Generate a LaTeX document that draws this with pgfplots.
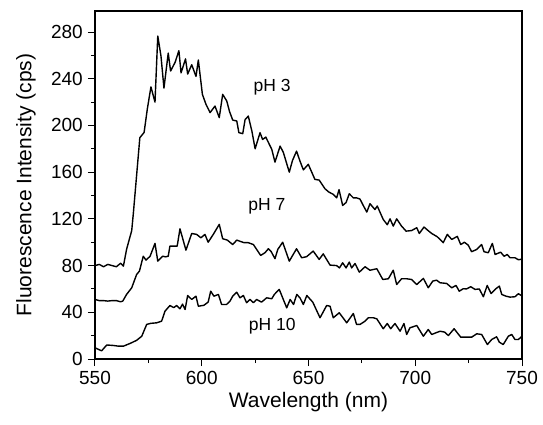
\documentclass[border=0pt]{standalone}
\usepackage{pgfplots}
\pgfplotsset{compat=1.18}
\usepackage{fontspec}
\setmainfont{Liberation Sans}
\begin{document}
\begin{tikzpicture}
\begin{axis}[
  scale only axis,
  width=427pt, height=348pt,
  xmin=550, xmax=750, ymin=0, ymax=298,
  xtick={550,600,...,750}, ytick={0,40,...,280},
  minor x tick num=1, minor y tick num=1,
  xtick pos=lower, ytick pos=left,
  tick align=outside,
  major tick length=7pt, minor tick length=4pt,
  every tick/.style={black, line width=1pt},
  axis line style={line width=1.2pt},
  /pgf/number format/assume math mode=true,
  tick label style={font=\fontsize{19}{22}\selectfont},
  xticklabel style={inner sep=2pt, yshift=-3pt},
  yticklabel style={inner sep=2pt, xshift=-3pt},
  label style={font=\fontsize{21}{25}\selectfont},
  xlabel={Wavelength (nm)},
  ylabel={Fluorescence Intensity (cps)},
  xlabel style={at={(axis description cs:0.5,-0.1236)}, anchor=center},
  ylabel style={at={(axis description cs:-0.1616,0.5)}, anchor=center},
]
% pH 3
\addplot[black, line width=1.4pt, line join=round] coordinates {
(550,80) (552,81) (554,79) (556,81) (558,80) (560,79) (562,82) (563.3,79.5)
(564.8,94) (567.2,110) (568,125.5) (571,189.5) (573,194) (574.5,214) (576.2,233)
(578.1,220) (579.4,276.6) (580.9,259.5) (582.3,232) (584.3,262) (585.4,246.6)
(587.5,254) (589.3,264) (590.3,245) (592.4,257) (593.4,244) (595.3,252) (597.3,242)
(598.4,256) (600.3,226.6) (602,218) (603.9,211) (606.2,216.6) (608.2,206.7)
(609.8,226.6) (611.7,221) (613,212) (614.5,204.6) (616.4,203.8) (617.4,193.8)
(619.2,193) (620.3,205) (621.8,208) (623.5,195) (625,180) (627.3,193.8) (628.5,188)
(630,190) (632.8,179.5) (634.3,168.6) (636.7,182.3) (638.2,177) (641,160) (642.5,170)
(644.4,178) (646,169.5) (647.6,162) (649.9,166.7) (653,153.8) (655,153.2) (657.7,145.8)
(659.5,143) (661.6,141) (663.2,138) (664.3,145) (666,131.5) (667.6,134) (669.1,141.5)
(671,138) (672.5,138) (674.1,137) (675.5,132) (677.3,125.8) (678.8,133) (681.1,128)
(682.2,131) (685,119.5) (686.9,115) (688.2,120) (689.7,113.8) (691.3,120) (693.5,114)
(695.7,109.5) (698.3,110) (700.7,112.4) (701.9,107.5) (704.1,113) (706,110) (707.7,107.5)
(710.3,104.7) (713.1,99.6) (715,106.7) (717.1,102.4) (719.7,105) (721.3,98) (723,100)
(724.8,97.5) (726.4,91.9) (728.8,93.8) (731.1,98) (732.2,91.9) (734.2,91) (736.1,99)
(737.4,89.5) (740,91.5) (741.6,88) (743.1,89.5) (744.4,86.7) (746.7,86.7) (748.3,85)
(750,85.5)
};
% pH 7
\addplot[black, line width=1.4pt, line join=round] coordinates {
(550,51) (552,50) (554,50) (556,49.6) (558,50) (560,50) (562,49) (563,49.6)
(564.8,55.3) (567.2,61) (569.5,72.4) (570.8,75.2) (572.6,88) (573.9,84.7) (575.8,88)
(578.1,99) (579.4,83.8) (581.7,88) (583,87.5) (584.3,88) (585.1,96.7) (588.5,96.7)
(589.8,111.5) (592.6,93.2) (595.3,107.5) (597.6,106.7) (599.6,103.8) (601.5,106.7)
(603,100) (605.4,106.7) (608.2,115.3) (609.8,103) (612,101.8) (614.5,98) (616.4,101.8)
(619.8,99.6) (621.8,99.6) (624.2,98) (627.6,88.7) (629.6,91) (631.2,94.4) (632.5,92)
(634.3,85.9) (635.6,93.8) (637.9,100) (641,83.8) (644.4,94.4) (646.8,86.7) (649.1,87.6)
(652.2,92.4) (655,85.3) (656.9,90) (660.1,80.4) (663.2,80) (664.5,78) (666,82.4)
(667.6,78) (669.1,83) (670.2,78) (671.8,81.8) (673.8,74.4) (676.5,79) (678.8,76)
(682,77.3) (684.8,68.1) (687.4,68.7) (689.7,76) (691.3,63.8) (693.6,68.7) (696,68.7)
(698.3,68.1) (700.7,63.8) (703.8,69) (706.1,61) (708.2,66.7) (710,67.5) (711.6,65.3)
(714.7,64.7) (717.1,61) (719.1,63) (720.6,58.1) (722.5,60.2) (724,60) (726,61.9)
(728,59.6) (730,60) (731.9,53.3) (733.7,63) (735.5,56.1) (737.8,60.2) (739.4,62.4)
(740.5,55.3) (742.5,53.8) (744.4,53) (746.7,53.3) (748.3,55.9) (750,54)
};
% pH 10
\addplot[black, line width=1.4pt, line join=round] coordinates {
(550,9.6) (553.1,7) (555.5,12) (558.6,11.6) (561,11) (563.3,11) (566.4,13.3)
(569.5,16) (571.9,19.5) (574.2,29.6) (576,30.5) (578.9,31) (581.2,32.4) (582.8,41)
(585.1,45.8) (586.9,44) (588.2,45.8) (589.8,43) (591,47) (592.2,42.4) (593.4,54.4)
(595.3,51) (597.3,53.8) (598.4,45.2) (601,46) (603,48.7) (604.2,58.1) (605.7,53.8)
(607.8,55.3) (609.3,46.7) (611.6,46.7) (613.2,49.5) (614.5,53.8) (616.4,57.2)
(617.9,52.4) (619.5,54.4) (621,48.2) (622.6,51) (624.2,48.2) (625.7,51) (628,48.7)
(630.4,52.4) (632.8,51.6) (634,55.3) (636.3,59.6) (638.2,51) (639.8,43.8) (641.4,51)
(643,46.7) (644.5,55.3) (646,52.4) (647.6,46.7) (649.2,54.4) (652,48.7) (655.4,35.3)
(658.5,45.8) (660.1,45.2) (661.6,35.3) (664.4,39.6) (667.9,31) (671,39) (672.5,29.6)
(674.1,29.6) (676.5,32.4) (678,35.3) (680.4,35.3) (682,34.4) (685,25.9) (686.9,30.4)
(688.5,25.9) (690.5,30.4) (692.9,23.8) (694.7,30.4) (696,21) (697.5,26.7) (700.7,28.7)
(703.8,19.5) (706.1,25.3) (707.7,21) (711.6,23.8) (713.8,23) (715.5,20.1) (718.2,25.9)
(721.3,18.7) (726.4,18.7) (728.8,21.6) (731.1,21) (733.8,12.4) (735.8,16.7) (738.1,19)
(739.4,14.4) (741.2,12.4) (743.6,19.5) (745.2,21) (746.7,16.7) (748.3,16.7) (750,19.5)
};
\node[font=\fontsize{17.5}{20}\selectfont] at (axis cs:633,233) {pH 3};
\node[font=\fontsize{17.5}{20}\selectfont] at (axis cs:630.5,131) {pH 7};
\node[font=\fontsize{17.5}{20}\selectfont] at (axis cs:633,28) {pH 10};
\end{axis}
\pgfresetboundingbox
\path ([shift={(-95pt,-65pt)}]current axis.south west) rectangle ([shift={(21pt,11pt)}]current axis.north east);
\end{tikzpicture}
\end{document}
